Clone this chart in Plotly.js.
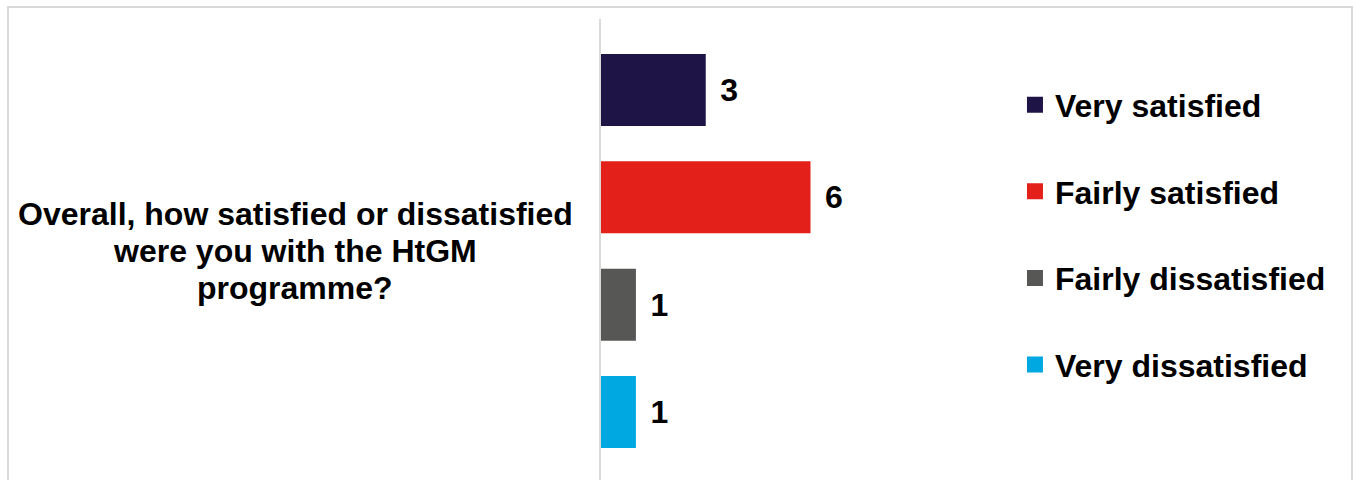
<!DOCTYPE html>
<html>
<head>
<meta charset="utf-8">
<script src="https://cdn.plot.ly/plotly-3.0.1.min.js"></script>
<style>
  html, body { margin: 0; padding: 0; background: #ffffff; overflow: hidden; }
  #wrap { position: relative; width: 1356px; height: 480px; overflow: hidden; }
  #chart { position: absolute; left: 0; top: 0; width: 1356px; height: 483px; }
  #frame { position: absolute; left: 7px; top: 6px; width: 1342px; height: 520px;
           border: 2px solid #d9d9d9; pointer-events: none; }
</style>
</head>
<body>
<div id="wrap">
  <div id="chart"></div>
  <div id="frame"></div>
</div>
<script>
// ---- data ----
const category = ["Overall, how satisfied or dissatisfied<br>were you with the HtGM<br>programme?"];
const seriesNames = ["Very satisfied", "Fairly satisfied", "Fairly dissatisfied", "Very dissatisfied"];
const seriesValues = [3, 6, 1, 1];
const seriesColors = ["#1F1446", "#E3211A", "#575756", "#00A8E1"];

const FONT = "'Liberation Sans', Arial, Helvetica, sans-serif";

const traces = [];
// bars
seriesNames.forEach((name, i) => {
  traces.push({
    type: "bar",
    orientation: "h",
    name: name,
    x: [seriesValues[i]],
    y: category,
    marker: { color: seriesColors[i], line: { width: 0 } },
    texttemplate: "\u00a0\u200a%{x}",
    textposition: "outside",
    constraintext: "none",
    cliponaxis: false,
    textfont: { family: FONT, size: 32, color: "#000000", weight: 700 },
    showlegend: false,
    hoverinfo: "skip"
  });
});
// legend entries (square swatches)
seriesNames.forEach((name, i) => {
  traces.push({
    type: "scatter",
    mode: "markers",
    name: name,
    x: [null],
    y: [null],
    marker: { symbol: "square", size: 22, color: seriesColors[i], line: { width: 0 } },
    legendgroup: "g" + i,
    showlegend: true,
    hoverinfo: "skip"
  });
});

// category label split into lines, stacked through the category axis
const labelLines = category[0].split("<br>");
const annotations = labelLines.map((line, i) => ({
  xref: "paper",
  yref: "y",
  x: -0.730,
  y: category[0],
  xanchor: "center",
  yanchor: "middle",
  yshift: ((labelLines.length - 1) / 2 - i) * 37,
  align: "center",
  showarrow: false,
  text: line,
  font: { family: FONT, size: 32, color: "#000000", weight: 700 }
}));

const layout = {
  width: 1356,
  height: 483,
  margin: { l: 601, r: 336, t: 19, b: 0, pad: 0 },
  paper_bgcolor: "#ffffff",
  plot_bgcolor: "#ffffff",
  barmode: "group",
  bargap: 0.075,
  bargroupgap: 0.329,
  showlegend: true,
  font: { family: FONT, size: 32, color: "#000000", weight: 700 },
  xaxis: {
    range: [0, 12],
    showticklabels: false,
    showgrid: false,
    zeroline: false,
    showline: false,
    ticks: "",
    fixedrange: true
  },
  yaxis: {
    type: "category",
    autorange: "reversed",
    showticklabels: false,
    showgrid: false,
    zeroline: false,
    showline: true,
    linecolor: "#d9d9d9",
    linewidth: 2,
    ticks: "",
    fixedrange: true
  },
  legend: {
    x: 0.988,
    xanchor: "left",
    y: 0.874,
    yanchor: "top",
    traceorder: "grouped",
    tracegroupgap: 42,
    bgcolor: "rgba(0,0,0,0)",
    borderwidth: 0,
    font: { family: FONT, size: 32, color: "#000000", weight: 700 },
    itemclick: false,
    itemdoubleclick: false
  },
  annotations: annotations
};

Plotly.newPlot("chart", traces, layout, { displayModeBar: false, staticPlot: true });
</script>
</body>
</html>
